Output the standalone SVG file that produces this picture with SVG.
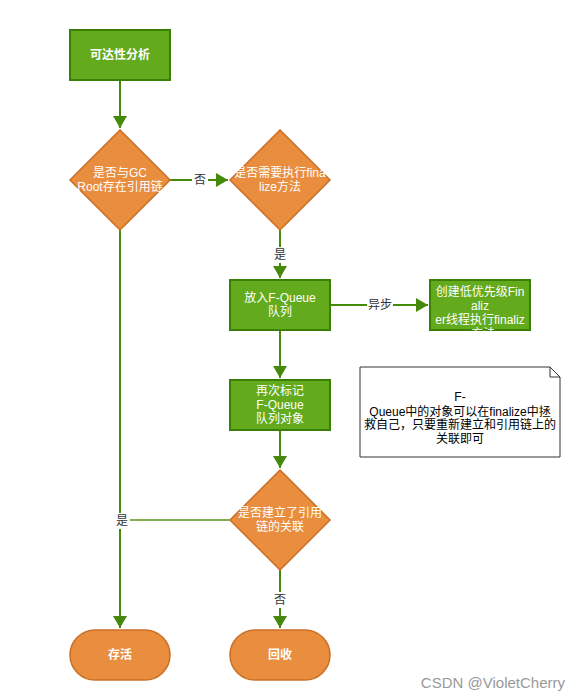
<svg xmlns="http://www.w3.org/2000/svg" width="580" height="700" viewBox="0 0 580 700">
<style>
.g{fill:#63aa1c;stroke:#3a7f06;stroke-width:2}
.o{fill:#e98d3f;stroke:#cc6d24;stroke-width:1.5}
.t{font-family:"Liberation Sans","Noto Sans CJK SC",sans-serif;font-size:12px;fill:#fff;text-anchor:middle}
.b{font-weight:bold}
.l{font-family:"Liberation Sans","Noto Sans CJK SC",sans-serif;font-size:12px;fill:#333;text-anchor:middle}
.e{fill:none;stroke:#468a0b;stroke-width:2}
.lb{fill:#fff}
.n{font-family:"Liberation Sans","Noto Sans CJK SC",sans-serif;font-size:12px;fill:#000;text-anchor:middle}
</style>
<defs>
<marker id="a" markerUnits="userSpaceOnUse" markerWidth="12" markerHeight="14" refX="12" refY="7" orient="auto">
<path d="M0,0 L12,7 L0,14 z" fill="#468a0b"/>
</marker>
<clipPath id="c3"><rect x="429" y="279" width="102" height="52"/></clipPath>
</defs>
<rect width="580" height="700" fill="#fff"/>
<g id="connectors">
<path class="e" d="M120,81 V128" marker-end="url(#a)"/>
<path class="e" d="M170,180 H228" marker-end="url(#a)"/>
<rect class="lb" x="192" y="172" width="16" height="16"/>
<text class="l" x="200" y="184">否</text>
<path class="e" d="M280,230 V278" marker-end="url(#a)"/>
<rect class="lb" x="272" y="247" width="16" height="16"/>
<text class="l" x="280" y="259">是</text>
<path class="e" d="M330,305 H428" marker-end="url(#a)"/>
<rect class="lb" x="367" y="297" width="26" height="16"/>
<text class="l" x="380" y="309">异步</text>
<path class="e" d="M280,331 V378" marker-end="url(#a)"/>
<path class="e" d="M280,431 V468" marker-end="url(#a)"/>
<path class="e" d="M120,230 V628" marker-end="url(#a)"/>
<path class="e" d="M230,520 H120" style="stroke:#7fae4f"/>
<rect class="lb" x="114" y="513" width="16" height="16"/>
<text class="l" x="122" y="525">是</text>
<path class="e" d="M280,570 V628" marker-end="url(#a)"/>
<rect class="lb" x="272" y="592" width="16" height="16"/>
<text class="l" x="280" y="604">否</text>
</g>
<g id="n1">
<rect class="g" x="70" y="30" width="100" height="50"/>
<text class="t b" x="120" y="59">可达性分析</text>
</g>
<g id="n2">
<path class="o" d="M120,130 L170,180 L120,230 L70,180 z"/>
<text class="t" x="120" y="177">是否与GC</text>
<text class="t" x="120" y="191">Root存在引用链</text>
</g>
<g id="n3">
<path class="o" d="M280,130 L330,180 L280,230 L230,180 z"/>
<text class="t" x="280" y="177">是否需要执行fina</text>
<text class="t" x="280" y="191">lize方法</text>
</g>
<g id="n4">
<rect class="g" x="230" y="280" width="100" height="50"/>
<text class="t" x="280" y="302">放入F-Queue</text>
<text class="t" x="280" y="316">队列</text>
</g>
<g id="n5">
<rect class="g" x="430" y="280" width="100" height="50"/>
<g clip-path="url(#c3)">
<text class="t" x="480" y="296">创建低优先级Fin</text>
<text class="t" x="480" y="310">aliz</text>
<text class="t" x="480" y="324">er线程执行finaliz</text>
<text class="t" x="480" y="338">e方法</text>
</g>
</g>
<g id="n6">
<rect class="g" x="230" y="380" width="100" height="50"/>
<text class="t" x="280" y="395">再次标记</text>
<text class="t" x="280" y="409">F-Queue</text>
<text class="t" x="280" y="423">队列对象</text>
</g>
<g id="note">
<path d="M360,367 H550 L560,377 V457 H360 z" fill="#fff" stroke="#333" stroke-width="1"/>
<path d="M550,367 V377 H560" fill="none" stroke="#333" stroke-width="1"/>
<text class="n" x="460" y="401">F-</text>
<text class="n" x="460" y="416">Queue中的对象可以在finalize中拯</text>
<text class="n" x="460" y="429">救自己，只要重新建立和引用链上的</text>
<text class="n" x="460" y="443">关联即可</text>
</g>
<g id="n7">
<path class="o" d="M280,470 L330,520 L280,570 L230,520 z"/>
<text class="t" x="280" y="517">是否建立了引用</text>
<text class="t" x="280" y="531">链的关联</text>
</g>
<g id="n8">
<rect class="o" x="70" y="630" width="100" height="50" rx="25"/>
<text class="t b" x="120" y="659">存活</text>
</g>
<g id="n9">
<rect class="o" x="230" y="630" width="100" height="50" rx="25"/>
<text class="t b" x="280" y="659">回收</text>
</g>
<text x="565" y="688" font-family="'Liberation Sans',sans-serif" font-size="15" fill="#999" text-anchor="end">CSDN @VioletCherry</text>
</svg>
